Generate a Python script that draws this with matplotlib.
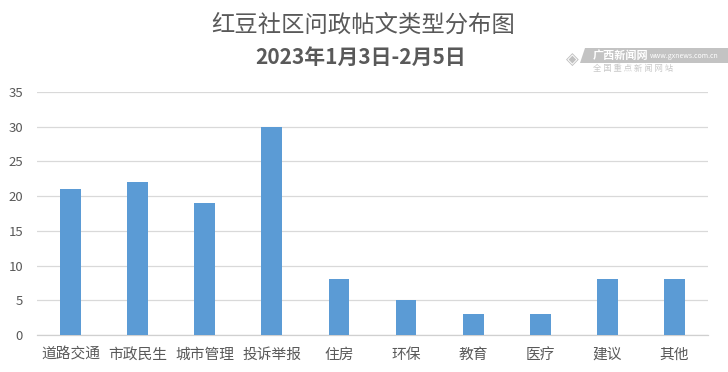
import matplotlib
matplotlib.use("Agg")
import matplotlib.pyplot as plt
from matplotlib.patches import Polygon

plt.rcParams['font.family'] = ['Noto Sans CJK SC', 'DejaVu Sans']

categories = ["道路交通", "市政民生", "城市管理", "投诉举报", "住房", "环保", "教育", "医疗", "建议", "其他"]
values = [21, 22, 19, 30, 8, 5, 3, 3, 8, 8]
yticks = [0, 5, 10, 15, 20, 25, 30, 35]
title1 = "红豆社区问政帖文类型分布图"
title2 = "2023年1月3日-2月5日"

fig = plt.figure(figsize=(7.28, 3.72), dpi=100)
ax = fig.add_axes([37/728, 1 - 335/372, (708-37)/728, (335-92)/372])

x = list(range(len(categories)))
ax.bar(x, values, width=0.31, color="#5b9bd5", zorder=3)
ax.set_xlim(-0.5, len(categories) - 0.5)
ax.set_ylim(0, 35)
ax.set_yticks(yticks)
ax.set_yticklabels([str(v) for v in yticks])
ax.set_xticks(x)
ax.set_xticklabels(categories)
ax.grid(axis='y', color="#d9d9d9", linewidth=0.9, zorder=0)
for s in ['top', 'right', 'left']:
    ax.spines[s].set_visible(False)
ax.spines['bottom'].set_color("#d0d0d0")
ax.spines['bottom'].set_linewidth(0.9)
ax.tick_params(axis='both', length=0, colors="#595959")
ax.tick_params(axis='y', labelsize=9.5, pad=10)
ax.tick_params(axis='x', labelsize=10.6, pad=9)

fig.text(363/728, 1 - 25/372, title1, ha='center', va='center', fontsize=16.8, color="#595959", fontweight='medium')
fig.text(361/728, 1 - 57/372, title2, ha='center', va='center', fontsize=15, color="#595959", fontweight='bold')

# watermark
band = Polygon([[585/728, 1-48/372], [728/728, 1-48/372], [728/728, 1-63/372], [580/728, 1-63/372]],
               closed=True, transform=fig.transFigure, facecolor="#b5b5b5", edgecolor='none', alpha=0.8)
fig.patches.append(band)
fig.text(593/728, 1 - 55.5/372, "广西新闻网", fontsize=8, color="white", fontweight='bold', va='center', ha='left')
fig.text(650/728, 1 - 56/372, "www.gxnews.com.cn", fontsize=5, color="white", va='center', ha='left')
fig.text(593/728, 1 - 69/372, "全 国 重 点 新 闻 网 站", fontsize=6, color="#c8c8c8", va='center', ha='left')
fig.text(572/728, 1 - 60/372, "◈", fontsize=12, color="#c0c0c0", va='center', ha='center', family=['DejaVu Sans'])

fig.savefig("out.png", dpi=100)
